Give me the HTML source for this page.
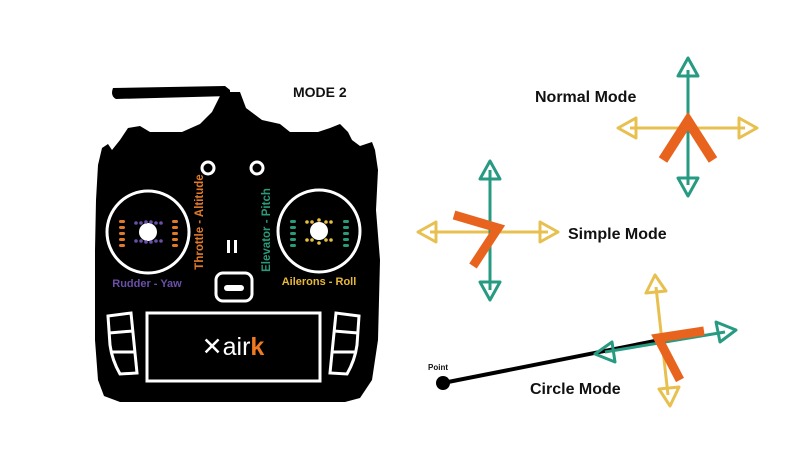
<!DOCTYPE html>
<html><head><meta charset="utf-8"><style>
html,body{margin:0;padding:0;background:#fff;}
svg{display:block;}
text{font-family:"Liberation Sans",sans-serif;}
</style></head><body>
<svg width="800" height="473" viewBox="0 0 800 473" xmlns="http://www.w3.org/2000/svg">
<!-- controller silhouette -->
<g fill="#000">
<path d="M113,88 L225,86 L230,90 L230,96 L116,99 Q110,96 113,88 Z"/>
<path d="M222,92 L240,92 L246,108 L262,120 L280,124 L290,132 L318,132 L330,128 L340,124 L348,132 L352,140 L360,146 L372,142 L375,150 L378,170 L376,210 L380,260 L378,340 L372,380 L360,398 L345,402 L120,402 L104,396 L98,380 L95,340 L95,250 L96,200 L98,165 L102,148 L108,144 L112,150 L120,140 L128,128 L140,126 L150,132 L182,132 L200,124 L212,112 Z"/>
</g>
<g fill="none" stroke="#fff" stroke-width="3">
<circle cx="148" cy="232" r="41"/>
<circle cx="319" cy="231" r="41"/>
<circle cx="208" cy="168" r="6"/>
<circle cx="257" cy="168" r="6"/>
<rect x="216" y="273" width="36" height="28" rx="7"/>
<rect x="147" y="313" width="173" height="68"/>
<path d="M108,316 L131,313 L137,373 L120,374 Q112,360 110,345 Z"/>
<path d="M109,333 L133,331 M110,352 L135,352"/>
<path d="M359,316 L336,313 L330,373 L347,374 Q355,360 357,345 Z"/>
<path d="M358,333 L334,331 M357,352 L332,352"/>
</g>
<rect x="224" y="285" width="20" height="6" rx="3" fill="#fff"/>
<rect x="227" y="240" width="3" height="13" fill="#fff"/><rect x="234" y="240" width="3" height="13" fill="#fff"/>
<circle cx="148" cy="232" r="9" fill="#fff"/>
<circle cx="319" cy="231" r="9" fill="#fff"/>
<g fill="#e07a2a">
<rect x="119" y="220" width="6" height="3" rx="1.5"/><rect x="119" y="226" width="6" height="3" rx="1.5"/><rect x="119" y="232" width="6" height="3" rx="1.5"/><rect x="119" y="238" width="6" height="3" rx="1.5"/><rect x="119" y="244" width="6" height="3" rx="1.5"/>
<rect x="172" y="220" width="6" height="3" rx="1.5"/><rect x="172" y="226" width="6" height="3" rx="1.5"/><rect x="172" y="232" width="6" height="3" rx="1.5"/><rect x="172" y="238" width="6" height="3" rx="1.5"/><rect x="172" y="244" width="6" height="3" rx="1.5"/>
</g>
<g fill="#6a4fa8">
<circle cx="136" cy="223" r="1.8"/><circle cx="141" cy="223" r="1.8"/><circle cx="146" cy="222" r="1.8"/><circle cx="151" cy="222" r="1.8"/><circle cx="156" cy="223" r="1.8"/><circle cx="161" cy="223" r="1.8"/>
<circle cx="136" cy="241" r="1.8"/><circle cx="141" cy="241" r="1.8"/><circle cx="146" cy="242" r="1.8"/><circle cx="151" cy="242" r="1.8"/><circle cx="156" cy="241" r="1.8"/><circle cx="161" cy="241" r="1.8"/>
</g>
<g fill="#2a9a7a">
<rect x="290" y="220" width="6" height="3" rx="1.5"/><rect x="290" y="226" width="6" height="3" rx="1.5"/><rect x="290" y="232" width="6" height="3" rx="1.5"/><rect x="290" y="238" width="6" height="3" rx="1.5"/><rect x="290" y="244" width="6" height="3" rx="1.5"/>
<rect x="343" y="220" width="6" height="3" rx="1.5"/><rect x="343" y="226" width="6" height="3" rx="1.5"/><rect x="343" y="232" width="6" height="3" rx="1.5"/><rect x="343" y="238" width="6" height="3" rx="1.5"/><rect x="343" y="244" width="6" height="3" rx="1.5"/>
</g>
<g fill="#e8c040">
<circle cx="307" cy="222" r="1.8"/><circle cx="312" cy="222" r="1.8"/><circle cx="319" cy="220" r="1.8"/><circle cx="326" cy="222" r="1.8"/><circle cx="331" cy="222" r="1.8"/>
<circle cx="307" cy="240" r="1.8"/><circle cx="312" cy="240" r="1.8"/><circle cx="319" cy="243" r="1.8"/><circle cx="326" cy="240" r="1.8"/><circle cx="331" cy="240" r="1.8"/>
</g>
<text x="147" y="287" font-size="11" fill="#6a4fa8" text-anchor="middle" font-weight="bold">Rudder - Yaw</text>
<text x="319" y="285" font-size="11" fill="#e8b83a" text-anchor="middle" font-weight="bold">Ailerons - Roll</text>
<text transform="translate(203,222) rotate(-90)" font-size="11.5" fill="#e07a2a" text-anchor="middle" font-weight="bold">Throttle - Altitude</text>
<text transform="translate(270,230) rotate(-90)" font-size="11.5" fill="#2a9a7a" text-anchor="middle" font-weight="bold">Elevator - Pitch</text>
<text x="233" y="355" font-size="25" fill="#fff" text-anchor="middle">✕air<tspan fill="#f07a20" font-weight="bold">k</tspan></text>
<text x="293" y="97" font-size="14" font-weight="bold" fill="#111">MODE 2</text>

<!-- Normal mode -->
<g stroke-width="3" fill="none" stroke-linejoin="round">
<g stroke="#e8c050"><line x1="630" y1="128" x2="745" y2="128"/><path d="M618,128 L636,118 L636,138 Z"/><path d="M757,128 L739,118 L739,138 Z"/></g>
<g stroke="#279a82"><line x1="688" y1="70" x2="688" y2="185"/><path d="M688,58 L678,76 L698,76 Z"/><path d="M688,196 L678,178 L698,178 Z"/></g>
</g>
<polyline points="663,160 688,121 713,160" fill="none" stroke="#e8641e" stroke-width="10" stroke-linejoin="miter"/>
<text x="535" y="102" font-size="16" font-weight="bold" fill="#111">Normal Mode</text>

<!-- Simple mode -->
<g stroke-width="3" fill="none" stroke-linejoin="round">
<g stroke="#e8c050"><line x1="430" y1="232" x2="548" y2="232"/><path d="M418,232 L436,222 L436,242 Z"/><path d="M558,232 L540,222 L540,242 Z"/></g>
<g stroke="#279a82"><line x1="490" y1="170" x2="490" y2="290"/><path d="M490,161 L480,179 L500,179 Z"/><path d="M490,300 L480,282 L500,282 Z"/></g>
</g>
<polyline points="454,215 498,228 473,266" fill="none" stroke="#e8641e" stroke-width="9" stroke-linejoin="miter"/>
<text x="568" y="239" font-size="16" font-weight="bold" fill="#111">Simple Mode</text>

<!-- Circle mode -->
<line x1="443" y1="383" x2="660" y2="340" stroke="#000" stroke-width="4"/>
<circle cx="443" cy="383" r="7" fill="#000"/>
<text x="428" y="370" font-size="8" font-weight="bold" fill="#111">Point</text>
<g stroke-width="3" fill="none" stroke-linejoin="round">
<g stroke="#e8c050"><line x1="656" y1="287" x2="668" y2="395"/><path d="M655,275 L646,293 L666,291 Z"/><path d="M670,406 L659,389 L679,387 Z"/></g>
<g stroke="#279a82"><line x1="605" y1="352" x2="725" y2="332"/><path d="M595,354 L612,342 L615,362 Z"/><path d="M736,330 L716,322 L720,342 Z"/></g>
</g>
<polyline points="704,331 658,338 680,380" fill="none" stroke="#e8641e" stroke-width="9" stroke-linejoin="miter"/>
<text x="530" y="394" font-size="16" font-weight="bold" fill="#111">Circle Mode</text>
</svg>
</body></html>
